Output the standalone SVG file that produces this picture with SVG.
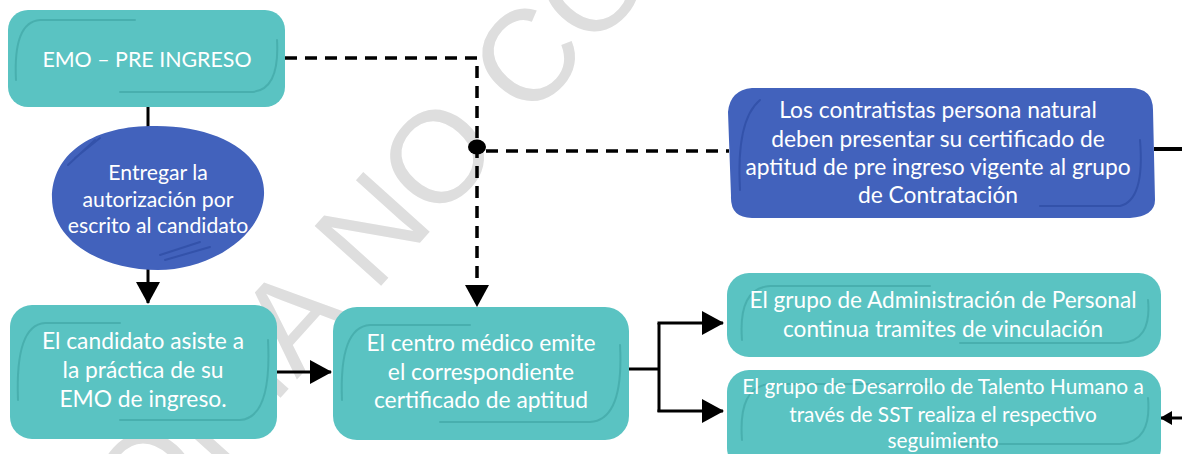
<svg xmlns="http://www.w3.org/2000/svg" width="1182" height="454" viewBox="0 0 1182 454">
<defs>
<style>
.teal{fill:#5AC3C2}
.blue{fill:#4262BC}
.dt{fill:none;stroke:#45ACAA;stroke-width:2;stroke-linecap:round;opacity:0.85}
.db{fill:none;stroke:#3352AA;stroke-width:2;stroke-linecap:round}
.t{font-family:Lato,"Noto Sans",sans-serif;fill:#FFFFFF;text-anchor:middle}
.wm{font-family:"Liberation Sans",Arial,sans-serif;font-size:130px;fill:#DEDEDE}
.ln{fill:none;stroke:#000;stroke-width:3}
.dash{fill:none;stroke:#000;stroke-width:3.5;stroke-dasharray:12 8}
</style>
<marker id="ah" markerUnits="userSpaceOnUse" markerWidth="24" markerHeight="24" viewBox="0 0 22 24" refX="21" refY="12" orient="auto">
<path d="M0 0 L22 12 L0 24 Z" fill="#000"/>
</marker>
<marker id="ahs" markerUnits="userSpaceOnUse" markerWidth="14" markerHeight="14" viewBox="0 0 12 14" refX="11" refY="7" orient="auto">
<path d="M0 0 L12 7 L0 14 Z" fill="#000"/>
</marker>
</defs>
<rect width="1182" height="454" fill="#FFFFFF"/>
<text class="wm" transform="translate(84,616) rotate(-48)">COPIA NO CONTROLADA</text>

<g id="connectors">
<line class="ln" x1="148" y1="106" x2="148" y2="127"/>
<line class="ln" x1="148" y1="268" x2="148" y2="303" marker-end="url(#ah)"/>
<line class="ln" x1="277" y1="372" x2="331" y2="372" marker-end="url(#ah)"/>
<path class="dash" d="M285 58 H477 V306" marker-end="url(#ah)"/>
<path class="dash" d="M486 151 H729"/>
<ellipse cx="477" cy="147" rx="9" ry="7.5" fill="#000"/>
<path class="ln" d="M629 369 H659 M659 323 V412"/>
<line class="ln" x1="657.5" y1="323" x2="723" y2="323" marker-end="url(#ah)"/>
<line class="ln" x1="657.5" y1="411" x2="723" y2="411" marker-end="url(#ah)"/>
<line x1="1154" y1="149" x2="1182" y2="149" stroke="#000" stroke-width="4"/>
<line class="ln" x1="1182" y1="418" x2="1161" y2="418" marker-end="url(#ahs)"/>
</g>

<g id="node-emo">
<rect class="teal" x="8" y="10" width="277" height="97" rx="20"/>
<path class="dt" d="M16 80 Q13 22 40 20 H135"/>
<path class="dt" d="M277 40 Q280 92 250 92 H120"/>
<text class="t" x="147" y="67" font-size="21.4">EMO – PRE INGRESO</text>
</g>

<g id="node-entregar">
<path class="blue" d="M150 126 C215 124 266 152 264 195 C262 236 210 270 158 270 C100 270 52 240 52 198 C52 155 90 127 150 126 Z"/>
<path class="db" d="M68 165 L95 140 M75 158 L100 138"/>
<path class="db" d="M160 255 L200 242 M165 260 L210 247"/>
<text class="t" font-size="21.2"><tspan x="158" y="180">Entregar la</tspan><tspan x="158" y="207">autorización por</tspan><tspan x="158" y="233">escrito al candidato</tspan></text>
</g>

<g id="node-candidato">
<rect class="teal" x="10" y="305" width="267" height="134" rx="22"/>
<path class="dt" d="M18 400 Q15 325 45 323 H120"/>
<path class="dt" d="M268 340 Q272 418 240 420 H120"/>
<text class="t" font-size="22.8"><tspan x="143" y="349">El candidato asiste a</tspan><tspan x="143" y="378">la práctica de su</tspan><tspan x="143" y="407">EMO de ingreso.</tspan></text>
</g>

<g id="node-centro">
<rect class="teal" x="333" y="307" width="296" height="133" rx="24"/>
<path class="dt" d="M342 400 Q339 327 370 325 H470"/>
<path class="dt" d="M620 345 Q624 420 590 422 H440"/>
<text class="t" font-size="22.8"><tspan x="481" y="351">El centro médico emite</tspan><tspan x="481" y="380">el correspondiente</tspan><tspan x="481" y="408">certificado de aptitud</tspan></text>
</g>

<g id="node-contratistas">
<path class="blue" d="M752 88 H1130 Q1153 88 1153 110 L1155 200 Q1155 216 1130 218 H752 Q730 218 731 196 L728 112 Q730 90 752 88 Z"/>
<path class="db" d="M740 190 Q736 120 760 100"/>
<path class="db" d="M1140 140 Q1145 200 1120 206 H1040"/>
<text class="t" font-size="22.8"><tspan x="938" y="118">Los contratistas persona natural</tspan><tspan x="938" y="147">deben presentar su certificado de</tspan><tspan x="938" y="175">aptitud de pre ingreso vigente al grupo</tspan><tspan x="938" y="203">de Contratación</tspan></text>
</g>

<g id="node-admin">
<rect class="teal" x="727" y="273" width="434" height="84" rx="22"/>
<path class="dt" d="M742 340 Q738 288 770 286 H930"/>
<path class="dt" d="M1148 300 Q1152 342 1120 343 H960"/>
<text class="t" font-size="22.6"><tspan x="943" y="308">El grupo de Administración de Personal</tspan><tspan x="943" y="337">continua tramites de vinculación</tspan></text>
</g>

<g id="node-desarrollo">
<rect class="teal" x="727" y="370" width="434" height="100" rx="22"/>
<path class="dt" d="M742 440 Q738 386 770 384 H930"/>
<path class="dt" d="M1148 398 Q1152 442 1120 444 H960"/>
<text class="t" font-size="20.8"><tspan x="943" y="394">El grupo de Desarrollo de Talento Humano a</tspan><tspan x="943" y="422">través de SST realiza el respectivo</tspan><tspan x="943" y="448">seguimiento</tspan></text>
</g>
</svg>
